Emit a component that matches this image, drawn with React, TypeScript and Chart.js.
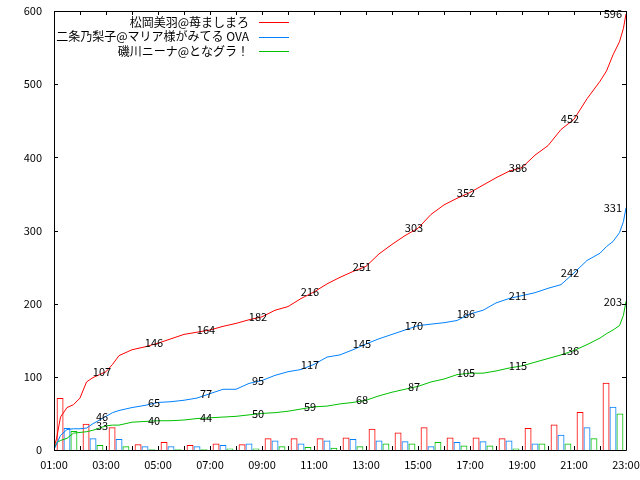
import { useEffect, useRef } from 'react';
import { Chart, registerables } from 'chart.js';

Chart.register(...registerables);

const FONT = '"Noto Sans CJK JP", "DejaVu Sans", sans-serif';

const seriesNames = ['松岡美羽@苺ましまろ', '二条乃梨子@マリア様がみてる OVA', '磯川ニーナ@となグラ！'];
const seriesColors = ['#ff0000', '#0080ff', '#00c000'];

// cumulative counts, time in hours
const times = [1, 1.1, 1.25, 1.5, 1.75, 2, 2.25, 2.5, 2.75, 3, 3.25, 3.5, 4, 4.5, 5, 5.5, 6, 6.5, 7, 7.5, 8, 8.5, 9, 9.5, 10, 10.5, 11, 11.5, 12, 12.5, 13, 13.5, 14, 14.5, 15, 15.5, 16, 16.5, 17, 17.5, 18, 18.5, 19, 19.5, 20, 20.5, 21, 21.5, 22, 22.25, 22.5, 22.75, 22.9, 23];
const redTotal = [3, 16, 45, 58, 62, 71, 93, 99, 103, 107, 117, 129, 137, 141, 146, 152, 158, 161, 164, 169, 173, 178, 182, 191, 196, 207, 216, 227, 236, 244, 251, 268, 281, 293, 303, 322, 335, 344, 352, 362, 372, 381, 386, 403, 416, 438, 452, 480, 504, 518, 540, 558, 576, 596];
const blueTotal = [1, 8, 20, 28, 29, 29, 30, 36, 41, 46, 51, 54, 58, 61, 65, 66, 68, 71, 77, 83, 83, 91, 95, 102, 107, 110, 117, 127, 130, 137, 145, 152, 158, 164, 170, 172, 174, 177, 186, 191, 201, 207, 211, 215, 221, 226, 242, 259, 269, 278, 285, 297, 312, 331];
const greenTotal = [1, 10, 13, 16, 23, 24, 25, 27, 30, 33, 34, 34, 38, 39, 40, 40, 41, 43, 44, 45, 46, 48, 50, 51, 53, 56, 59, 60, 63, 65, 68, 74, 79, 83, 87, 93, 97, 103, 105, 105, 108, 112, 115, 120, 125, 130, 136, 144, 153, 159, 164, 170, 184, 203];

// per-hour counts
const hourStarts = [1, 2, 3, 4, 5, 6, 7, 8, 9, 10, 11, 12, 13, 14, 15, 16, 17, 18, 19, 20, 21, 22];
const redHourly = [71, 36, 31, 8, 11, 7, 9, 8, 16, 16, 16, 17, 29, 24, 31, 17, 17, 16, 30, 35, 52, 92];
const blueHourly = [30, 16, 15, 5, 5, 5, 7, 9, 13, 9, 13, 15, 13, 12, 5, 11, 12, 13, 9, 21, 31, 59];
const greenHourly = [26, 7, 5, 1, 1, 1, 2, 2, 5, 4, 3, 5, 9, 9, 11, 6, 6, 2, 9, 9, 16, 50];

const yTicks = [0, 100, 200, 300, 400, 500, 600];

const hourLabel = (h: number) => (h < 10 ? '0' + h : '' + h) + ':00';

const framePlugin = {
    id: 'frame',
    afterDatasetsDraw(chart: any) {
        const { ctx, chartArea: a, scales } = chart;
        ctx.save();
        ctx.strokeStyle = '#000';
        ctx.lineWidth = 1;
        ctx.beginPath();
        ctx.rect(Math.round(a.left) + 0.5, Math.round(a.top) + 0.5, Math.round(a.right - a.left), Math.round(a.bottom - a.top));
        scales.x.ticks.forEach((t: any) => {
            const px = Math.round(scales.x.getPixelForValue(t.value)) + 0.5;
            ctx.moveTo(px, a.bottom);
            ctx.lineTo(px, a.bottom - 4);
            ctx.moveTo(px, a.top);
            ctx.lineTo(px, a.top + 4);
        });
        scales.y.ticks.forEach((t: any) => {
            const py = Math.round(scales.y.getPixelForValue(t.value)) + 0.5;
            ctx.moveTo(a.left, py);
            ctx.lineTo(a.left + 4, py);
            ctx.moveTo(a.right, py);
            ctx.lineTo(a.right - 4, py);
        });
        ctx.stroke();

        // value labels on the cumulative lines at odd hours
        ctx.fillStyle = '#000';
        ctx.font = '11px ' + FONT;
        ctx.textBaseline = 'middle';
        chart.data.datasets.forEach((ds: any) => {
            if (ds.type !== 'line') return;
            ds.data.forEach((p: any) => {
                if (p.x < 3 || !Number.isInteger(p.x) || p.x % 2 === 0) return;
                const px = scales.x.getPixelForValue(p.x);
                const py = scales.y.getPixelForValue(p.y);
                if (p.x === 23) {
                    ctx.textAlign = 'right';
                    ctx.fillText(String(p.y), px - 4, py);
                } else {
                    ctx.textAlign = 'center';
                    ctx.fillText(String(p.y), px - 4, py);
                }
            });
        });

        // gnuplot-style key, top right
        ctx.font = '12px ' + FONT;
        ctx.textAlign = 'right';
        seriesNames.forEach((name, i) => {
            const y = a.top + 11 + i * 14.5;
            ctx.fillStyle = '#000';
            ctx.fillText(name, 249, y);
            ctx.strokeStyle = seriesColors[i];
            ctx.beginPath();
            ctx.moveTo(259, Math.round(y) + 0.5);
            ctx.lineTo(289, Math.round(y) + 0.5);
            ctx.stroke();
        });
        ctx.restore();
    },
};

export default function App() {
    const canvasRef = useRef<HTMLCanvasElement | null>(null);

    useEffect(() => {
        document.body.style.margin = '0';
        if (!canvasRef.current) {
            return;
        }
        const totals = [redTotal, blueTotal, greenTotal];
        const hourly = [redHourly, blueHourly, greenHourly];

        const lineSets = totals.map((vals, i) => ({
            type: 'line' as const,
            label: seriesNames[i],
            data: times.map((t, j) => ({ x: t, y: vals[j] })),
            borderColor: seriesColors[i],
            borderWidth: 1,
            pointRadius: 0,
            tension: 0,
            fill: false,
        }));
        const barSets = hourly.map((vals, i) => ({
            type: 'bar' as const,
            label: seriesNames[i] + ' /h',
            data: hourStarts.map((h, j) => ({ x: h + 0.5, y: vals[j] })),
            borderColor: seriesColors[i],
            backgroundColor: 'rgba(0,0,0,0)',
            borderWidth: 1,
            barPercentage: 1,
            categoryPercentage: 0.8,
        }));

        const chart = new Chart(canvasRef.current, {
            type: 'bar',
            data: { datasets: [...lineSets, ...barSets] as any },
            options: {
                animation: false,
                responsive: true,
                maintainAspectRatio: false,
                layout: { padding: { left: 0, right: 14, top: 11, bottom: 0 } },
                plugins: { legend: { display: false }, tooltip: { enabled: false } },
                scales: {
                    x: {
                        type: 'linear',
                        min: 1,
                        max: 23,
                        offset: false,
                        grid: { display: false, drawTicks: false },
                        border: { display: false },
                        afterFit: (s: any) => {
                            s.height = 30;
                            s.paddingLeft = 0;
                            s.paddingRight = 0;
                        },
                        ticks: {
                            stepSize: 1,
                            autoSkip: false,
                            maxRotation: 0,
                            padding: 8,
                            color: '#000',
                            font: { family: FONT, size: 11 },
                            callback: (v: any) => (Number(v) % 2 === 1 ? hourLabel(Number(v)) : ''),
                        },
                    },
                    y: {
                        min: 0,
                        max: 600,
                        grid: { display: false, drawTicks: false },
                        border: { display: false },
                        afterFit: (s: any) => {
                            s.width = 54;
                            s.paddingTop = 0;
                            s.paddingBottom = 0;
                        },
                        afterBuildTicks: (s: any) => { s.ticks = yTicks.map((v) => ({ value: v })); },
                        ticks: {
                            padding: 12,
                            color: '#000',
                            font: { family: FONT, size: 11 },
                        },
                    },
                },
            },
            plugins: [framePlugin],
        });
        return () => chart.destroy();
    }, []);

    return (
        <div style={{ width: '640px', height: '480px', position: 'relative', background: '#fff' }}>
            <canvas ref={canvasRef} />
        </div>
    );
}
